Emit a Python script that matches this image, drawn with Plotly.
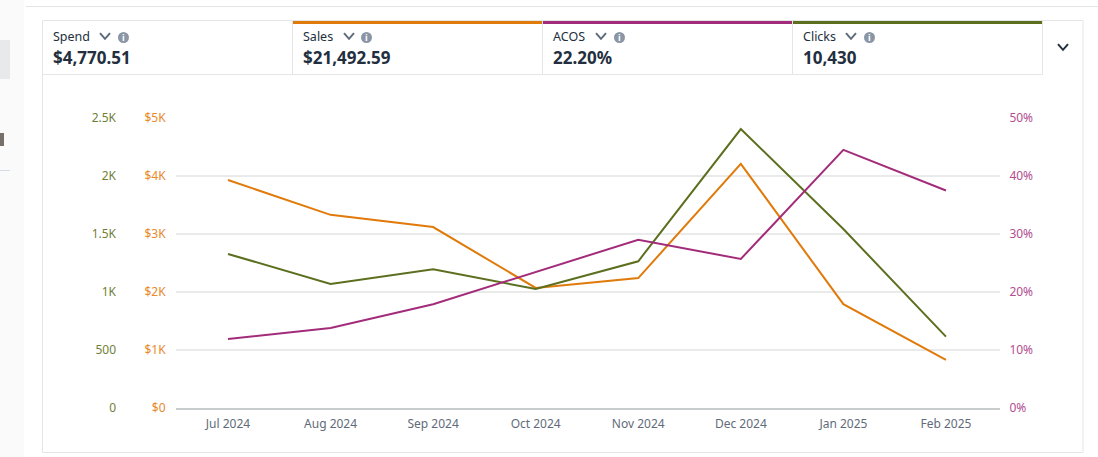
import plotly.graph_objects as go

months = ["Jul 2024", "Aug 2024", "Sep 2024", "Oct 2024", "Nov 2024", "Dec 2024", "Jan 2025", "Feb 2025"]
sales = [3930, 3330, 3120, 2070, 2240, 4210, 1790, 830]
clicks = [1328, 1070, 1195, 1026, 1265, 2405, 1543, 615]
acos = [11.9, 13.8, 17.9, 23.4, 29.0, 25.7, 44.5, 37.5]

clicks_ticks = [0, 500, 1000, 1500, 2000, 2500]
clicks_labels = ["0", "500", "1K", "1.5K", "2K", "2.5K"]
sales_ticks = [0, 1000, 2000, 3000, 4000, 5000]
sales_labels = ["$0", "$1K", "$2K", "$3K", "$4K", "$5K"]
acos_ticks = [0, 10, 20, 30, 40, 50]
acos_labels = ["0%", "10%", "20%", "30%", "40%", "50%"]

metric_names = ["Spend", "Sales", "ACOS", "Clicks"]
metric_values = ["$4,770.51", "$21,492.59", "22.20%", "10,430"]

W, H = 1098, 457
FONT = "Noto Sans"
ORANGE, MAGENTA, GREEN = "#e07a0a", "#a32c7a", "#5b6f1f"
metric_colors = [None, ORANGE, MAGENTA, GREEN]


def px(x):
    return x / W


def py(y):
    return 1 - y / H


fig = go.Figure()
fig.add_trace(go.Scatter(x=months, y=sales, mode="lines", yaxis="y", line=dict(color=ORANGE, width=2), name="Sales"))
fig.add_trace(go.Scatter(x=months, y=acos, mode="lines", yaxis="y3", line=dict(color=MAGENTA, width=2), name="ACOS"))
fig.add_trace(go.Scatter(x=months, y=clicks, mode="lines", yaxis="y2", line=dict(color=GREEN, width=2), name="Clicks"))

shapes, annotations = [], []


def rect(x0, y0, x1, y1, fill=None, line=None, w=1):
    shapes.append(dict(type="rect", xref="paper", yref="paper", x0=px(x0), x1=px(x1), y0=py(y0), y1=py(y1),
                       fillcolor=fill or "rgba(0,0,0,0)", line=dict(color=line or "rgba(0,0,0,0)", width=w if line else 0),
                       layer="below"))


def hline(x0, x1, y, c="#e4e6e6", w=1):
    shapes.append(dict(type="line", xref="paper", yref="paper", x0=px(x0), x1=px(x1), y0=py(y), y1=py(y),
                       line=dict(color=c, width=w), layer="below"))


def vline(x, y0, y1, c="#e4e6e6", w=1):
    shapes.append(dict(type="line", xref="paper", yref="paper", x0=px(x), x1=px(x), y0=py(y0), y1=py(y1),
                       line=dict(color=c, width=w), layer="below"))


def chevron(cx, cy, hw=5, hh=2.8, c="#5f6b7a", w=2):
    pts = [(cx - hw, cy - hh), (cx, cy + hh), (cx + hw, cy - hh)]
    path = "M " + " L ".join(f"{px(a):.5f},{py(b):.5f}" for a, b in pts)
    shapes.append(dict(type="path", xref="paper", yref="paper", path=path, line=dict(color=c, width=w), layer="above"))


def text(x, y, s, size, color, anchor="left", bold=False):
    annotations.append(dict(xref="paper", yref="paper", x=px(x), y=py(y), text=f"<b>{s}</b>" if bold else s,
                            showarrow=False, xanchor=anchor, yanchor="middle",
                            font=dict(family=FONT, size=size, color=color), borderpad=0, borderwidth=0))


# page chrome
rect(0, 0, 24, H, fill="#fafafa")
rect(0, 40, 10, 79, fill="#e8e9ea")
hline(0, 10, 170.5, c="#d5dbe5")
rect(0, 133, 4, 146, fill="#77706a")
hline(26, W, 6.5)

# card
rect(42.5, 20.5, 1083, 452.5, line="#e4e6e6")
hline(42.5, 1042.5, 74.5)
cell_edges = [42.5, 292.5, 542.5, 792.5, 1042.5]
for e in cell_edges[1:]:
    vline(e, 21, 74.5)
label_x = [53, 303, 553, 803]
chev_x = [105, 349, 601, 851]
info_x = [123.5, 366.5, 619.5, 869.5]
for i, name in enumerate(metric_names):
    if metric_colors[i]:
        rect(cell_edges[i] + 0.5, 21, cell_edges[i + 1] - 0.5, 24, fill=metric_colors[i])
    text(label_x[i], 36.5, name, 12.5, "#232f3e")
    text(label_x[i], 57, metric_values[i], 17, "#232f3e", bold=True)
    chevron(chev_x[i], 36, c="#5f6b7a")
    shapes.append(dict(type="circle", xref="paper", yref="paper", x0=px(info_x[i] - 5.5), x1=px(info_x[i] + 5.5),
                       y0=py(43), y1=py(32), fillcolor="#8a96a5", line=dict(width=0), layer="below"))
    text(info_x[i], 37, "i", 9, "#ffffff", anchor="center", bold=True)
chevron(1063, 47, c="#232f3e")

TICK = 12
fig.update_layout(
    width=W, height=H, autosize=False, showlegend=False,
    margin=dict(l=0, r=0, t=0, b=0),
    paper_bgcolor="#ffffff", plot_bgcolor="rgba(0,0,0,0)",
    font=dict(family=FONT, size=TICK),
    shapes=shapes, annotations=annotations,
    xaxis=dict(automargin=False, domain=[px(176), px(1000)], type="category", showgrid=False, zeroline=False,
               showline=True, linecolor="#c9cccc", linewidth=1.5, ticks="outside", ticklen=4, tickcolor="rgba(0,0,0,0)",
               tickfont=dict(color="#5f6b7a", size=TICK), anchor="y", range=[-0.507, 7.527]),
    yaxis=dict(automargin=False, domain=[py(408), py(118)], range=[0, 5000], tickvals=sales_ticks, ticktext=sales_labels,
               tickfont=dict(color="#e8892a", size=TICK), showgrid=True, gridcolor="#e9ebeb", gridwidth=1.5,
               zeroline=False, showline=False, ticks="outside", ticklen=7, tickcolor="rgba(0,0,0,0)", anchor="x"),
    yaxis2=dict(automargin=False, domain=[py(408), py(118)], range=[0, 2500], tickvals=clicks_ticks, ticktext=clicks_labels,
                tickfont=dict(color="#6f7f38", size=TICK), showgrid=False, zeroline=False, showline=False,
                overlaying="y", anchor="free", position=px(116), side="left", ticks=""),
    yaxis3=dict(automargin=False, domain=[py(408), py(118)], range=[0, 50], tickvals=acos_ticks, ticktext=acos_labels,
                tickfont=dict(color="#b24d8f", size=TICK), showgrid=False, zeroline=False, showline=False,
                overlaying="y", anchor="x", side="right", ticks="outside", ticklen=6, tickcolor="rgba(0,0,0,0)"),
)

fig.write_html("out.html", config=dict(displayModeBar=False),
               post_script="document.body.style.margin='0';document.documentElement.style.margin='0';document.body.style.overflow='hidden';")
